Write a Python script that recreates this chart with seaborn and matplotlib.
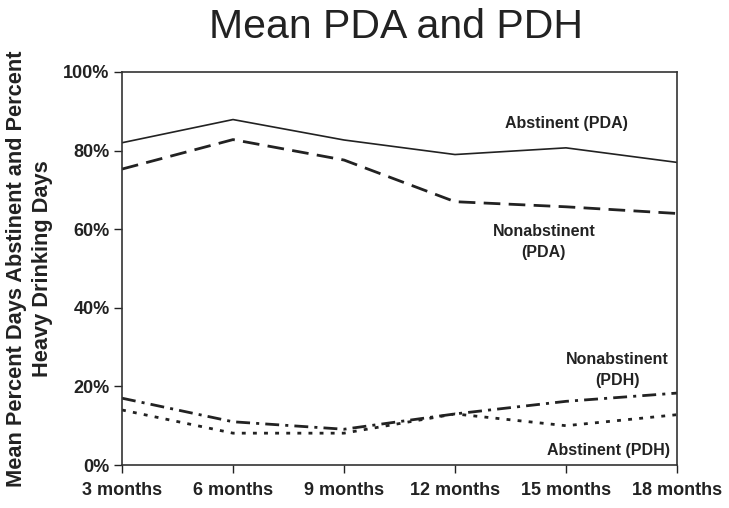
import matplotlib
matplotlib.use("Agg")
import matplotlib.pyplot as plt
from matplotlib.ticker import PercentFormatter
import seaborn as sns
import pandas as pd

# ---- data ----
months = [3, 6, 9, 12, 15, 18]
month_labels = ["3 months", "6 months", "9 months", "12 months", "15 months", "18 months"]
abstinent_pda = [82.0, 87.9, 82.7, 79.0, 80.7, 77.0]
nonabstinent_pda = [75.3, 82.8, 77.6, 67.0, 65.7, 64.0]
nonabstinent_pdh = [17.0, 11.0, 9.1, 13.0, 16.2, 18.3]
abstinent_pdh = [14.0, 8.1, 8.1, 13.0, 10.0, 12.8]
series_names = ["Abstinent (PDA)", "Nonabstinent (PDA)", "Nonabstinent (PDH)", "Abstinent (PDH)"]
y_ticks = [0, 20, 40, 60, 80, 100]

rows = []
for name, vals in zip(series_names, [abstinent_pda, nonabstinent_pda, nonabstinent_pdh, abstinent_pdh]):
    for m, v in zip(months, vals):
        rows.append({"month": m, "value": v, "series": name})
df = pd.DataFrame(rows)

plt.rcParams["font.family"] = ["Liberation Sans", "DejaVu Sans"]
INK = "#222222"

W, H = 729, 508
fig = plt.figure(figsize=(W / 100, H / 100), dpi=100)
ax = fig.add_axes([122 / W, 1 - 465 / H, (677 - 122) / W, (465 - 72) / H])

dashes = {
    "Abstinent (PDA)": "",
    "Nonabstinent (PDA)": (6.0, 3.0),
    "Nonabstinent (PDH)": (5.0, 2.2, 1.1, 2.2),
    "Abstinent (PDH)": (1.4, 2.6),
}
widths = {
    "Abstinent (PDA)": 1.2,
    "Nonabstinent (PDA)": 2.0,
    "Nonabstinent (PDH)": 2.0,
    "Abstinent (PDH)": 2.0,
}
for name in series_names:
    sub = df[df["series"] == name]
    sns.lineplot(data=sub, x="month", y="value", ax=ax, color=INK,
                 linewidth=widths[name], legend=False)
    line = ax.get_lines()[-1]
    if dashes[name]:
        line.set_dashes(dashes[name])

ax.set_xlim(months[0], months[-1])
ax.set_ylim(y_ticks[0], y_ticks[-1])
ax.set_xticks(months)
ax.set_xticklabels(month_labels)
ax.set_yticks(y_ticks)
ax.yaxis.set_major_formatter(PercentFormatter(100, decimals=0))
ax.set_xlabel("")
ax.set_ylabel("Mean Percent Days Abstinent and Percent\nHeavy Drinking Days",
              fontsize=15.7, fontweight="bold", color=INK, linespacing=1.3)
ax.yaxis.set_label_coords(-0.125, 0.50)

ax.tick_params(axis="both", direction="out", length=6, width=1.0, color=INK,
               labelsize=13, labelcolor=INK)
ax.tick_params(axis="y", pad=3)
ax.tick_params(axis="x", pad=6)
for lab in ax.get_xticklabels() + ax.get_yticklabels():
    lab.set_fontweight("bold")
for sp in ax.spines.values():
    sp.set_color("#333333")
    sp.set_linewidth(1.2)

ann = dict(transform=ax.transAxes, fontsize=11.5, fontweight="bold", color=INK,
           ha="center", va="center", linespacing=1.45)
ax.text(0.80, 0.870, "Abstinent (PDA)", **ann)
ax.text(0.760, 0.567, "Nonabstinent\n(PDA)", **ann)
ax.text(0.892, 0.242, "Nonabstinent\n(PDH)", **ann)
ax.text(0.876, 0.038, "Abstinent (PDH)", **ann)

fig.text(396 / W, 1 - 38 / H, "Mean PDA and PDH", ha="center", va="baseline",
         fontsize=29.5, color=INK)

fig.savefig("out.png", dpi=100, facecolor="white")
